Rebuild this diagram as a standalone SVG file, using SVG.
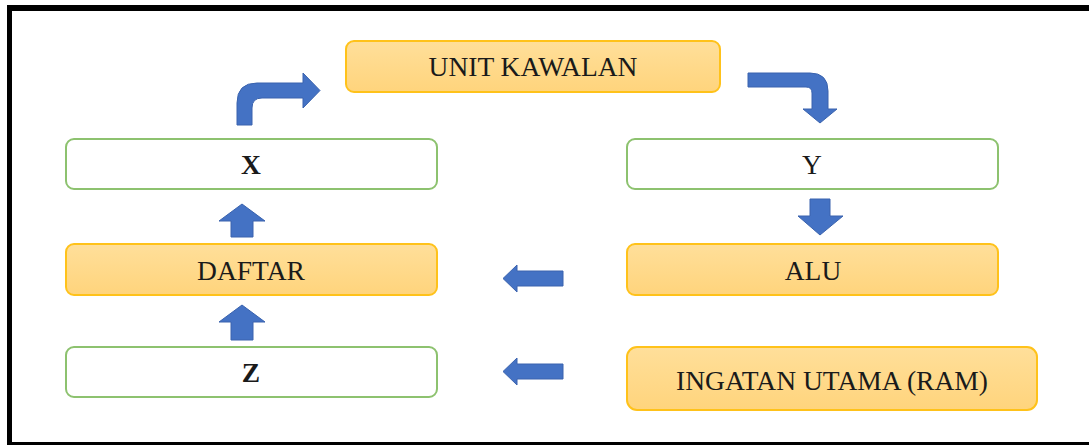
<svg xmlns="http://www.w3.org/2000/svg" width="1089" height="445" viewBox="0 0 1089 445">
<defs>
<linearGradient id="og" x1="0" y1="0" x2="0" y2="1">
<stop offset="0" stop-color="#FFDF9A"/>
<stop offset="1" stop-color="#FFD47C"/>
</linearGradient>
<style>
.o{fill:url(#og);stroke:#FFC21A;stroke-width:2}
.g{fill:#FFFFFF;stroke:#8DC26F;stroke-width:2}
.t{font-family:"Liberation Serif","Times New Roman",serif;font-size:27.5px;fill:#1a1a1a;text-anchor:middle}
.b{font-weight:bold}
.a{fill:#4472C4;stroke:#3A63AE;stroke-width:1}
</style>
</defs>
<rect width="1089" height="445" fill="#FFFFFF"/>
<g id="frame" fill="#000000">
<rect x="7" y="5" width="1082" height="6"/>
<rect x="7" y="5" width="5" height="440"/>
<rect x="7" y="442" width="1082" height="3"/>
</g>
<g id="unit-kawalan"><rect class="o" x="346" y="41" width="374" height="51" rx="8"/><text class="t" x="533" y="75.5">UNIT KAWALAN</text></g>
<g id="x"><rect class="g" x="66" y="139" width="371" height="50" rx="8"/><text class="t b" x="251" y="173.5">X</text></g>
<g id="y"><rect class="g" x="627" y="139" width="371" height="50" rx="8"/><text class="t" x="812" y="173.5">Y</text></g>
<g id="daftar"><rect class="o" x="66" y="244" width="371" height="51" rx="8"/><text class="t" x="251" y="279.5">DAFTAR</text></g>
<g id="alu"><rect class="o" x="627" y="244" width="371" height="51" rx="8"/><text class="t" x="813" y="279.5">ALU</text></g>
<g id="z"><rect class="g" x="66" y="347" width="371" height="50" rx="8"/><text class="t b" x="251" y="381.5">Z</text></g>
<g id="ram"><rect class="o" x="627" y="347" width="410" height="63" rx="10"/><text class="t" x="832" y="389.5">INGATAN UTAMA (RAM)</text></g>
<g id="connectors">
<path class="a" d="M237,125 L237,103 Q237,83 257,83 L303,83 L303,73 L320,90.5 L303,108 L303,98 L262,98 Q252,98 252,108 L252,125 Z"/>
<path class="a" d="M748,73 L810,73 Q828,73 828,91 L828,109 L837,109 L820,123 L803,109 L812,109 L812,93 Q812,87 806,87 L748,87 Z"/>
<path class="a" d="M242,204 L265,221 L253,221 L253,237 L231,237 L231,221 L219,221 Z"/>
<path class="a" d="M242,305 L265,322 L253,322 L253,340 L231,340 L231,322 L219,322 Z"/>
<path class="a" d="M810,199 L830,199 L830,216 L843,216 L820,235 L798,216 L810,216 Z"/>
<path class="a" d="M503,278.5 L517,265 L517,271 L563,271 L563,286 L517,286 L517,292 Z"/>
<path class="a" d="M503,371.5 L517,358 L517,364 L563,364 L563,379 L517,379 L517,385 Z"/>
</g>
</svg>
